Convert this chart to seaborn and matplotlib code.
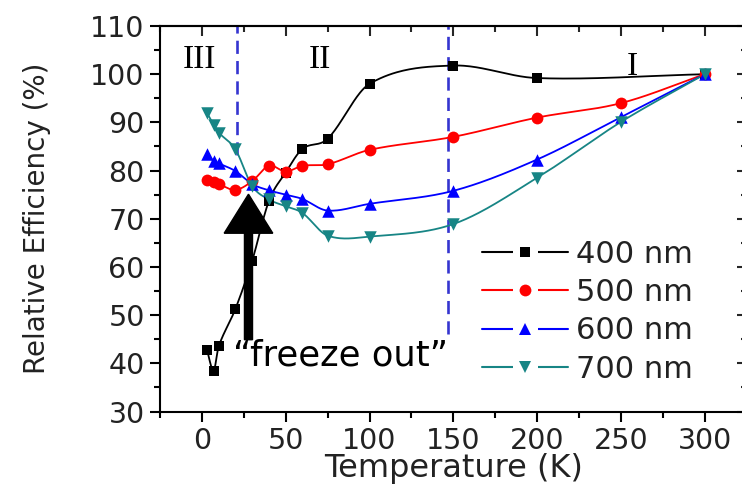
import numpy as np
import pandas as pd
import matplotlib
matplotlib.use("Agg")
import matplotlib.pyplot as plt
from matplotlib.ticker import MultipleLocator
from matplotlib.lines import Line2D
from matplotlib.legend_handler import HandlerTuple
import seaborn as sns

# ---- data -------------------------------------------------------------
temp_400 = [3, 7, 10, 20, 30, 40, 50, 60, 75, 100, 150, 200, 300]
eff_400 = [42.8, 38.5, 43.5, 51.3, 61.3, 73.7, 79.6, 84.5, 86.6, 98.0, 101.8, 99.2, 100.0]

temp_all = [3, 7, 10, 20, 30, 40, 50, 60, 75, 100, 150, 200, 250, 300]
eff_500 = [78.0, 77.7, 77.2, 76.0, 77.8, 81.0, 79.8, 81.0, 81.3, 84.3, 87.0, 91.0, 94.0, 100.0]
eff_600 = [83.4, 82.0, 81.5, 79.9, 77.2, 75.9, 75.0, 74.1, 71.7, 73.1, 75.8, 82.3, 91.1, 100.0]
eff_700 = [92.0, 89.5, 87.9, 84.4, 76.8, 74.0, 72.6, 71.2, 66.5, 66.3, 68.9, 78.5, 90.1, 100.0]

series_labels = ["400 nm", "500 nm", "600 nm", "700 nm"]
series_colors = ["#000000", "#ff0000", "#0000ff", "#178585"]
series_markers = ["s", "o", "^", "v"]
series_msize = [7.8, 8.5, 9.0, 9.0]

region_labels = ["III", "II", "I"]
region_x = [-1.5, 70.5, 256.5]
region_y = [103.0, 103.0, 101.6]
boundary_x = [21.0, 147.0]
boundary_ymin = [83.2, 46.0]

x_ticks = [0, 50, 100, 150, 200, 250, 300]
y_ticks = [30, 40, 50, 60, 70, 80, 90, 100, 110]


def smooth_curve(x, y, per_seg=40):
    """Cubic Hermite (Catmull-Rom style) curve through every (x, y) point."""
    x = np.asarray(x, float)
    y = np.asarray(y, float)
    n = len(x)
    m = np.empty(n)
    m[0] = (y[1] - y[0]) / (x[1] - x[0])
    m[-1] = (y[-1] - y[-2]) / (x[-1] - x[-2])
    m[1:-1] = (y[2:] - y[:-2]) / (x[2:] - x[:-2])
    xs_all, ys_all = [], []
    for i in range(n - 1):
        h = x[i + 1] - x[i]
        t = np.linspace(0, 1, per_seg, endpoint=(i == n - 2))
        h00 = 2 * t ** 3 - 3 * t ** 2 + 1
        h10 = t ** 3 - 2 * t ** 2 + t
        h01 = -2 * t ** 3 + 3 * t ** 2
        h11 = t ** 3 - t ** 2
        xs_all.append(x[i] + t * h)
        ys_all.append(h00 * y[i] + h10 * h * m[i] + h01 * y[i + 1] + h11 * h * m[i + 1])
    return np.concatenate(xs_all), np.concatenate(ys_all)


series = [
    (temp_400, eff_400),
    (temp_all, eff_500),
    (temp_all, eff_600),
    (temp_all, eff_700),
]

# ---- styling ----------------------------------------------------------
sns.set_style("ticks")
plt.rcParams["font.family"] = ["DejaVu Sans"]
plt.rcParams["axes.linewidth"] = 1.5

fig = plt.figure(figsize=(7.42, 4.93), dpi=100)
ax = fig.add_axes([0.2156, 0.1653, 0.7907, 0.7819])

# smooth connecting curves and the measured points
for (tx, ty), lab, col, mk, ms in zip(series, series_labels, series_colors,
                                      series_markers, series_msize):
    xs, ys = smooth_curve(tx, ty)
    curve = pd.DataFrame({"T": xs, "eff": ys})
    pts = pd.DataFrame({"T": tx, "eff": ty})
    sns.lineplot(data=curve, x="T", y="eff", ax=ax, color=col, lw=1.3,
                 sort=False, estimator=None, zorder=3)
    sns.scatterplot(data=pts, x="T", y="eff", ax=ax, color=col, marker=mk,
                    s=ms ** 2, linewidth=0, zorder=4)

# region boundaries
for bx, bymin in zip(boundary_x, boundary_ymin):
    ax.plot([bx, bx], [bymin, 110], color="#3535d0", lw=1.9,
            dashes=(5, 2.7), zorder=2)

# region numerals
for lab, rx, ry in zip(region_labels, region_x, region_y):
    ax.text(rx, ry, lab, ha="center", va="center", fontsize=24,
            family=["Liberation Serif", "DejaVu Serif"], color="black")

# "freeze out" arrow and caption
ax.arrow(27.8, 44.9, 0, 75.1 - 44.9, width=4.8, head_width=29,
         head_length=8.1, length_includes_head=True, color="black",
         zorder=5)
ax.text(18.7, 39.5, "\u201cfreeze out\u201d", ha="left", va="baseline",
        fontsize=25.5, color="black", zorder=6)

# axes ranges and ticks
ax.set_xlim(-25, 325)
ax.set_ylim(30, 110)
ax.set_xticks(x_ticks)
ax.set_yticks(y_ticks)
ax.xaxis.set_minor_locator(MultipleLocator(25))
ax.yaxis.set_minor_locator(MultipleLocator(5))
ax.tick_params(axis="both", which="major", direction="out", length=7,
               width=1.5, labelsize=20.5, color="black", labelcolor="#222222")
ax.tick_params(axis="both", which="minor", direction="out", length=4,
               width=1.5, color="black")
ax.tick_params(axis="x", pad=4)
ax.tick_params(axis="y", pad=4)

top = ax.secondary_xaxis("top")
top.set_xticks(x_ticks)
top.xaxis.set_minor_locator(MultipleLocator(25))
top.tick_params(which="major", direction="in", length=7, width=1.5, labeltop=False)
top.tick_params(which="minor", direction="in", length=4, width=1.5)
top.set_xticklabels([])

right = ax.secondary_yaxis("right")
right.set_yticks(y_ticks)
right.yaxis.set_minor_locator(MultipleLocator(5))
right.tick_params(which="major", direction="in", length=7, width=1.5, labelright=False)
right.tick_params(which="minor", direction="in", length=4, width=1.5)
right.set_yticklabels([])

for sp in ax.spines.values():
    sp.set_visible(True)
    sp.set_linewidth(1.5)
    sp.set_color("black")

ax.set_xlabel("Temperature (K)", fontsize=23, labelpad=-1, color="#222222")
ax.set_ylabel("Relative Efficiency (%)", fontsize=20, labelpad=28, color="#222222")

# legend with a short gap on either side of each marker
handles = []
for col, mk, ms in zip(series_colors, series_markers, series_msize):
    ln = Line2D([], [], color=col, lw=1.5)
    gap = Line2D([], [], ls="none", marker="s", markersize=18,
                 markerfacecolor="white", markeredgewidth=0)
    dot = Line2D([], [], ls="none", marker=mk, markersize=ms,
                 markerfacecolor=col, markeredgewidth=0)
    handles.append((ln, gap, dot))

ax.legend(handles, series_labels,
          handler_map={tuple: HandlerTuple(ndivide=1, pad=0)},
          frameon=False, loc="upper left",
          bbox_to_anchor=(481.7 / 742, 1 - 240 / 493),
          bbox_transform=fig.transFigure, borderpad=0, borderaxespad=0,
          handlelength=2.83, handletextpad=0.27, labelspacing=0.3,
          fontsize=22, labelcolor="#222222")

fig.savefig("out.png", dpi=100)
